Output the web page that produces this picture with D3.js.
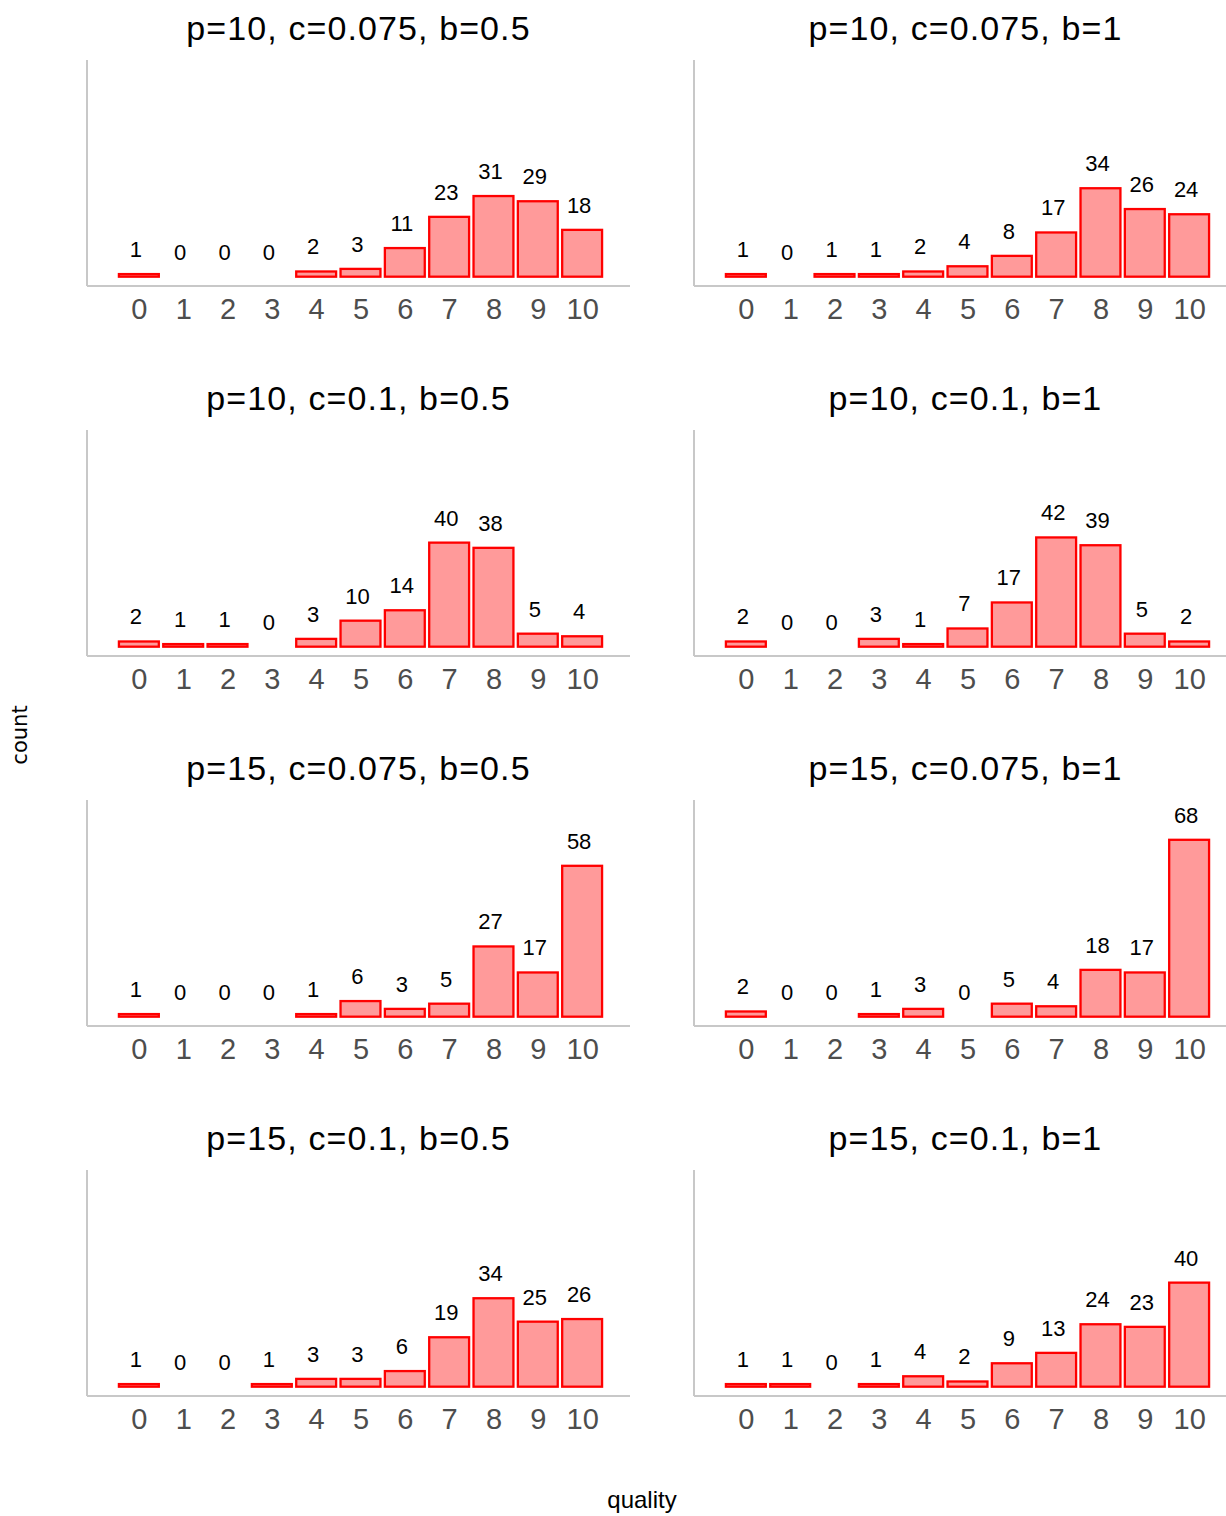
<!DOCTYPE html>
<html>
<head>
<meta charset="utf-8">
<script src="https://cdn.jsdelivr.net/npm/d3@7"></script>
<style>
  body { margin: 0; background: #fff; }
  svg { display: block; font-family: "Liberation Sans", Arial, sans-serif; }
</style>
</head>
<body>
<div id="chart"></div>
<script>
// quality levels on the x axis
let quality = [0, 1, 2, 3, 4, 5, 6, 7, 8, 9, 10];

// facet titles, in reading order
let titles = [
  "p=10, c=0.075, b=0.5", "p=10, c=0.075, b=1",
  "p=10, c=0.1, b=0.5",   "p=10, c=0.1, b=1",
  "p=15, c=0.075, b=0.5", "p=15, c=0.075, b=1",
  "p=15, c=0.1, b=0.5",   "p=15, c=0.1, b=1"
];

// counts per quality level for each facet
let p10c075b05 = [1, 0, 0, 0, 2, 3, 11, 23, 31, 29, 18];
let p10c075b1  = [1, 0, 1, 1, 2, 4, 8, 17, 34, 26, 24];
let p10c1b05   = [2, 1, 1, 0, 3, 10, 14, 40, 38, 5, 4];
let p10c1b1    = [2, 0, 0, 3, 1, 7, 17, 42, 39, 5, 2];
let p15c075b05 = [1, 0, 0, 0, 1, 6, 3, 5, 27, 17, 58];
let p15c075b1  = [2, 0, 0, 1, 3, 0, 5, 4, 18, 17, 68];
let p15c1b05   = [1, 0, 0, 1, 3, 3, 6, 19, 34, 25, 26];
let p15c1b1    = [1, 1, 0, 1, 4, 2, 9, 13, 24, 23, 40];

let counts = [p10c075b05, p10c075b1, p10c1b05, p10c1b1,
              p15c075b05, p15c075b1, p15c1b05, p15c1b1];

let W = 1226, H = 1516;
let panelW = 543, panelH = 226;
let colX = [87, 694];
let rowTop = [60, 430, 800, 1170];

let svg = d3.select("#chart")
  .append("svg")
    .attr("width", W)
    .attr("height", H);

// shared scales (same for every facet)
let x = d3.scaleLinear()
  .domain([-1.17, 11.08])
  .range([0, panelW]);

let y = d3.scaleLinear()
  .domain([-3.58, 83.3])
  .range([panelH, 0]);

let barW = x(0.9) - x(0);

counts.forEach(function(vals, i) {
  let col = i % 2, row = Math.floor(i / 2);
  let g = svg.append("g")
    .attr("transform", "translate(" + colX[col] + "," + rowTop[row] + ")");

  let data = quality.map(function(q, j) { return {q: q, n: vals[j]}; });

  // title
  g.append("text")
    .attr("x", panelW / 2)
    .attr("y", -20)
    .attr("text-anchor", "middle")
    .style("font-size", "34px")
    .style("letter-spacing", "1.1px")
    .style("fill", "#000")
    .text(titles[i]);

  // axis lines
  g.append("line")
    .attr("x1", 0).attr("x2", 0)
    .attr("y1", 0).attr("y2", panelH)
    .style("stroke", "#c8c8c8")
    .style("stroke-width", 2);

  let xAxis = d3.axisBottom(x)
    .tickValues(quality)
    .tickSize(0)
    .tickPadding(12)
    .tickFormat(d3.format("d"));

  let ax = g.append("g")
    .attr("transform", "translate(0," + panelH + ")")
    .call(xAxis);
  ax.select(".domain")
    .attr("d", "M0,0H" + panelW)
    .style("stroke", "#c8c8c8")
    .style("stroke-width", 2);
  ax.selectAll("text")
    .style("font-family", "Liberation Sans, Arial, sans-serif")
    .style("font-size", "29px")
    .style("fill", "#4d4d4d");

  // bars
  g.selectAll(".bar")
    .data(data.filter(function(d) { return d.n > 0; }))
    .enter()
    .append("rect")
      .attr("class", "bar")
      .attr("x", function(d) { return x(d.q) - barW / 2; })
      .attr("y", function(d) { return y(d.n); })
      .attr("width", barW)
      .attr("height", function(d) { return y(0) - y(d.n); })
      .style("fill", "#ff9a9a")
      .style("stroke", "#ff0000")
      .style("stroke-width", 2.3);

  // count labels
  g.selectAll(".lab")
    .data(data)
    .enter()
    .append("text")
      .attr("class", "lab")
      .attr("x", function(d) { return x(d.q) - 3; })
      .attr("y", function(d) { return y(d.n) - 17; })
      .attr("text-anchor", "middle")
      .style("font-size", "22px")
      .style("fill", "#000")
      .text(function(d) { return d.n; });
});

// axis titles
svg.append("text")
  .attr("transform", "translate(27,735) rotate(-90)")
  .attr("text-anchor", "middle")
  .style("font-family", "DejaVu Sans, sans-serif")
  .style("font-size", "21px")
  .text("count");

svg.append("text")
  .attr("x", 642)
  .attr("y", 1508)
  .attr("text-anchor", "middle")
  .style("font-size", "24px")
  .text("quality");
</script>
</body>
</html>
